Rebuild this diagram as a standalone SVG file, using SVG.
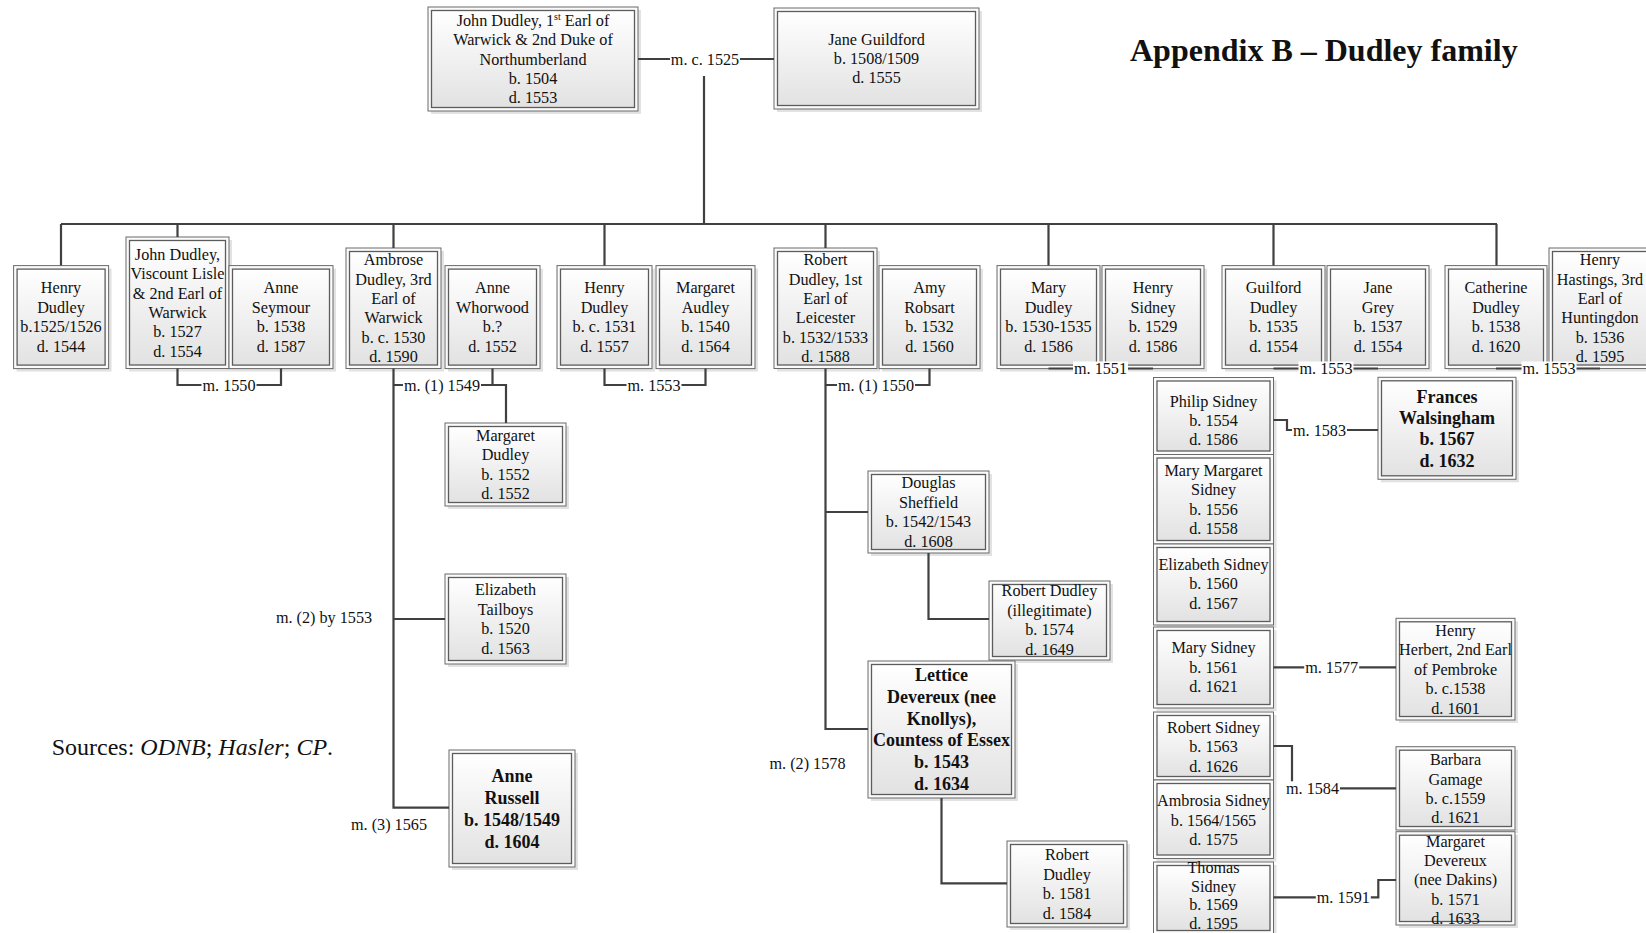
<svg xmlns="http://www.w3.org/2000/svg" width="1646" height="933" viewBox="0 0 1646 933">
<defs>
<linearGradient id="g" x1="0" y1="0" x2="0" y2="1"><stop offset="0" stop-color="#ffffff"/><stop offset="1" stop-color="#e2e2e2"/></linearGradient>
</defs>
<style>
.sh{fill:#cfcfcf;opacity:.6}
.o{fill:#fbfbfb;stroke:#6a6a6a;stroke-width:1}
.i{fill:url(#g);stroke:#5c5c5c;stroke-width:1.3}
text{font-family:"Liberation Serif","Times New Roman",serif;fill:#111}
.t{font-size:16.2px;text-anchor:middle}
.b{font-size:18px;font-weight:bold;text-anchor:middle}
.c{fill:none;stroke:#404040;stroke-width:2.2}
.l{font-size:16.2px;text-anchor:middle}
.lb{fill:#fff}
</style>
<rect width="1646" height="933" fill="#fff"/>

<g id="nodes">
<g id="n-john-dudley"><rect class="sh" x="431" y="10" width="210" height="104"/><rect class="o" x="428" y="7" width="210" height="104"/><rect class="i" x="431.5" y="10.5" width="203" height="97"/>
<text class="t"><tspan x="533" y="25.7">John Dudley, 1<tspan font-size="10" dy="-6">st</tspan><tspan dy="6"> Earl of</tspan></tspan><tspan x="533" y="45.1">Warwick &amp; 2nd Duke of</tspan><tspan x="533" y="64.5">Northumberland</tspan><tspan x="533" y="83.9">b. 1504</tspan><tspan x="533" y="103.3">d. 1553</tspan></text></g>

<g id="n-jane-guildford"><rect class="sh" x="777" y="11" width="205" height="101"/><rect class="o" x="774" y="8" width="205" height="101"/><rect class="i" x="777.5" y="11.5" width="198" height="94"/>
<text class="t"><tspan x="876.5" y="44.6">Jane Guildford</tspan><tspan x="876.5" y="64">b. 1508/1509</tspan><tspan x="876.5" y="83.4">d. 1555</tspan></text></g>

<g id="n-henry-dudley"><rect class="sh" x="16.6" y="268.6" width="95" height="103"/><rect class="o" x="13.6" y="265.6" width="95" height="103"/><rect class="i" x="17.1" y="269.1" width="88" height="96"/>
<text class="t"><tspan x="61" y="293.4">Henry</tspan><tspan x="61" y="312.8">Dudley</tspan><tspan x="61" y="332.2">b.1525/1526</tspan><tspan x="61" y="351.6">d. 1544</tspan></text></g>

<g id="n-john-lisle"><rect class="sh" x="129" y="240" width="103" height="131.5"/><rect class="o" x="126" y="237" width="103" height="131.5"/><rect class="i" x="129.5" y="240.5" width="96" height="124.5"/>
<text class="t"><tspan x="177.5" y="259.75">John Dudley,</tspan><tspan x="177.5" y="279.15">Viscount Lisle</tspan><tspan x="177.5" y="298.55">&amp; 2nd Earl of</tspan><tspan x="177.5" y="317.95">Warwick</tspan><tspan x="177.5" y="337.35">b. 1527</tspan><tspan x="177.5" y="356.75">d. 1554</tspan></text></g>

<g id="n-anne-seymour"><rect class="sh" x="232" y="268.6" width="104" height="103"/><rect class="o" x="229" y="265.6" width="104" height="103"/><rect class="i" x="232.5" y="269.1" width="97" height="96"/>
<text class="t"><tspan x="281" y="293.4">Anne</tspan><tspan x="281" y="312.8">Seymour</tspan><tspan x="281" y="332.2">b. 1538</tspan><tspan x="281" y="351.6">d. 1587</tspan></text></g>

<g id="n-ambrose"><rect class="sh" x="349" y="251" width="95" height="120.5"/><rect class="o" x="346" y="248" width="95" height="120.5"/><rect class="i" x="349.5" y="251.5" width="88" height="113.5"/>
<text class="t"><tspan x="393.5" y="265.25">Ambrose</tspan><tspan x="393.5" y="284.65">Dudley, 3rd</tspan><tspan x="393.5" y="304.05">Earl of</tspan><tspan x="393.5" y="323.45">Warwick</tspan><tspan x="393.5" y="342.85">b. c. 1530</tspan><tspan x="393.5" y="362.25">d. 1590</tspan></text></g>

<g id="n-anne-whorwood"><rect class="sh" x="448" y="268.6" width="95" height="103"/><rect class="o" x="445" y="265.6" width="95" height="103"/><rect class="i" x="448.5" y="269.1" width="88" height="96"/>
<text class="t"><tspan x="492.5" y="293.4">Anne</tspan><tspan x="492.5" y="312.8">Whorwood</tspan><tspan x="492.5" y="332.2">b.?</tspan><tspan x="492.5" y="351.6">d. 1552</tspan></text></g>

<g id="n-henry-dudley-2"><rect class="sh" x="560" y="268.6" width="95" height="103"/><rect class="o" x="557" y="265.6" width="95" height="103"/><rect class="i" x="560.5" y="269.1" width="88" height="96"/>
<text class="t"><tspan x="604.5" y="293.4">Henry</tspan><tspan x="604.5" y="312.8">Dudley</tspan><tspan x="604.5" y="332.2">b. c. 1531</tspan><tspan x="604.5" y="351.6">d. 1557</tspan></text></g>

<g id="n-margaret-audley"><rect class="sh" x="659" y="268.6" width="99" height="103"/><rect class="o" x="656" y="265.6" width="99" height="103"/><rect class="i" x="659.5" y="269.1" width="92" height="96"/>
<text class="t"><tspan x="705.5" y="293.4">Margaret</tspan><tspan x="705.5" y="312.8">Audley</tspan><tspan x="705.5" y="332.2">b. 1540</tspan><tspan x="705.5" y="351.6">d. 1564</tspan></text></g>

<g id="n-robert-dudley"><rect class="sh" x="777" y="251" width="103" height="120.5"/><rect class="o" x="774" y="248" width="103" height="120.5"/><rect class="i" x="777.5" y="251.5" width="96" height="113.5"/>
<text class="t"><tspan x="825.5" y="265.25">Robert</tspan><tspan x="825.5" y="284.65">Dudley, 1st</tspan><tspan x="825.5" y="304.05">Earl of</tspan><tspan x="825.5" y="323.45">Leicester</tspan><tspan x="825.5" y="342.85">b. 1532/1533</tspan><tspan x="825.5" y="362.25">d. 1588</tspan></text></g>

<g id="n-amy-robsart"><rect class="sh" x="882" y="268.6" width="101" height="103"/><rect class="o" x="879" y="265.6" width="101" height="103"/><rect class="i" x="882.5" y="269.1" width="94" height="96"/>
<text class="t"><tspan x="929.5" y="293.4">Amy</tspan><tspan x="929.5" y="312.8">Robsart</tspan><tspan x="929.5" y="332.2">b. 1532</tspan><tspan x="929.5" y="351.6">d. 1560</tspan></text></g>

<g id="n-mary-dudley"><rect class="sh" x="1000" y="268.6" width="103" height="103"/><rect class="o" x="997" y="265.6" width="103" height="103"/><rect class="i" x="1000.5" y="269.1" width="96" height="96"/>
<text class="t"><tspan x="1048.5" y="293.4">Mary</tspan><tspan x="1048.5" y="312.8">Dudley</tspan><tspan x="1048.5" y="332.2">b. 1530-1535</tspan><tspan x="1048.5" y="351.6">d. 1586</tspan></text></g>

<g id="n-henry-sidney"><rect class="sh" x="1105" y="268.6" width="102" height="103"/><rect class="o" x="1102" y="265.6" width="102" height="103"/><rect class="i" x="1105.5" y="269.1" width="95" height="96"/>
<text class="t"><tspan x="1153" y="293.4">Henry</tspan><tspan x="1153" y="312.8">Sidney</tspan><tspan x="1153" y="332.2">b. 1529</tspan><tspan x="1153" y="351.6">d. 1586</tspan></text></g>

<g id="n-guilford-dudley"><rect class="sh" x="1225" y="268.6" width="103" height="103"/><rect class="o" x="1222" y="265.6" width="103" height="103"/><rect class="i" x="1225.5" y="269.1" width="96" height="96"/>
<text class="t"><tspan x="1273.5" y="293.4">Guilford</tspan><tspan x="1273.5" y="312.8">Dudley</tspan><tspan x="1273.5" y="332.2">b. 1535</tspan><tspan x="1273.5" y="351.6">d. 1554</tspan></text></g>

<g id="n-jane-grey"><rect class="sh" x="1330" y="268.6" width="102" height="103"/><rect class="o" x="1327" y="265.6" width="102" height="103"/><rect class="i" x="1330.5" y="269.1" width="95" height="96"/>
<text class="t"><tspan x="1378" y="293.4">Jane</tspan><tspan x="1378" y="312.8">Grey</tspan><tspan x="1378" y="332.2">b. 1537</tspan><tspan x="1378" y="351.6">d. 1554</tspan></text></g>

<g id="n-catherine-dudley"><rect class="sh" x="1448" y="268.6" width="102" height="103"/><rect class="o" x="1445" y="265.6" width="102" height="103"/><rect class="i" x="1448.5" y="269.1" width="95" height="96"/>
<text class="t"><tspan x="1496" y="293.4">Catherine</tspan><tspan x="1496" y="312.8">Dudley</tspan><tspan x="1496" y="332.2">b. 1538</tspan><tspan x="1496" y="351.6">d. 1620</tspan></text></g>

<g id="n-henry-hastings"><rect class="sh" x="1552" y="251" width="102" height="120.5"/><rect class="o" x="1549" y="248" width="102" height="120.5"/><rect class="i" x="1552.5" y="251.5" width="95" height="113.5"/>
<text class="t"><tspan x="1600" y="265.25">Henry</tspan><tspan x="1600" y="284.65">Hastings, 3rd</tspan><tspan x="1600" y="304.05">Earl of</tspan><tspan x="1600" y="323.45">Huntingdon</tspan><tspan x="1600" y="342.85">b. 1536</tspan><tspan x="1600" y="362.25">d. 1595</tspan></text></g>

<g id="n-margaret-dudley"><rect class="sh" x="448" y="426" width="121" height="83"/><rect class="o" x="445" y="423" width="121" height="83"/><rect class="i" x="448.5" y="426.5" width="114" height="76"/>
<text class="t"><tspan x="505.5" y="440.9">Margaret</tspan><tspan x="505.5" y="460.3">Dudley</tspan><tspan x="505.5" y="479.7">b. 1552</tspan><tspan x="505.5" y="499.1">d. 1552</tspan></text></g>

<g id="n-elizabeth-tailboys"><rect class="sh" x="448" y="577" width="121" height="90"/><rect class="o" x="445" y="574" width="121" height="90"/><rect class="i" x="448.5" y="577.5" width="114" height="83"/>
<text class="t"><tspan x="505.5" y="595.4">Elizabeth</tspan><tspan x="505.5" y="614.8">Tailboys</tspan><tspan x="505.5" y="634.2">b. 1520</tspan><tspan x="505.5" y="653.6">d. 1563</tspan></text></g>

<g id="n-anne-russell"><rect class="sh" x="452" y="753" width="126" height="117"/><rect class="o" x="449" y="750" width="126" height="117"/><rect class="i" x="452.5" y="753.5" width="119" height="110"/>
<text class="b"><tspan x="512" y="781.9">Anne</tspan><tspan x="512" y="803.9">Russell</tspan><tspan x="512" y="825.9">b. 1548/1549</tspan><tspan x="512" y="847.9">d. 1604</tspan></text></g>

<g id="n-douglas-sheffield"><rect class="sh" x="871" y="474" width="121" height="82"/><rect class="o" x="868" y="471" width="121" height="82"/><rect class="i" x="871.5" y="474.5" width="114" height="75"/>
<text class="t"><tspan x="928.5" y="488.4">Douglas</tspan><tspan x="928.5" y="507.8">Sheffield</tspan><tspan x="928.5" y="527.2">b. 1542/1543</tspan><tspan x="928.5" y="546.6">d. 1608</tspan></text></g>

<g id="n-robert-dudley-illegitimate"><rect class="sh" x="992" y="584" width="121" height="79"/><rect class="o" x="989" y="581" width="121" height="79"/><rect class="i" x="992.5" y="584.5" width="114" height="72"/>
<text class="t"><tspan x="1049.5" y="596.4">Robert Dudley</tspan><tspan x="1049.5" y="615.8">(illegitimate)</tspan><tspan x="1049.5" y="635.2">b. 1574</tspan><tspan x="1049.5" y="654.6">d. 1649</tspan></text></g>

<g id="n-lettice"><rect class="sh" x="871" y="664" width="147" height="137"/><rect class="o" x="868" y="661" width="147" height="137"/><rect class="i" x="871.5" y="664.5" width="140" height="130"/>
<text class="b"><tspan x="941.5" y="681.2">Lettice</tspan><tspan x="941.5" y="702.9">Devereux (nee</tspan><tspan x="941.5" y="724.6">Knollys),</tspan><tspan x="941.5" y="746.2">Countess of Essex</tspan><tspan x="941.5" y="767.9">b. 1543</tspan><tspan x="941.5" y="789.6">d. 1634</tspan></text></g>

<g id="n-robert-dudley-1581"><rect class="sh" x="1010" y="844" width="120" height="86"/><rect class="o" x="1007" y="841" width="120" height="86"/><rect class="i" x="1010.5" y="844.5" width="113" height="79"/>
<text class="t"><tspan x="1067" y="860.4">Robert</tspan><tspan x="1067" y="879.8">Dudley</tspan><tspan x="1067" y="899.2">b. 1581</tspan><tspan x="1067" y="918.6">d. 1584</tspan></text></g>

<g id="n-philip-sidney"><rect class="sh" x="1156.5" y="380.5" width="120" height="77"/><rect class="o" x="1153.5" y="377.5" width="120" height="77"/><rect class="i" x="1157" y="381" width="113" height="70"/>
<text class="t"><tspan x="1213.5" y="406.6">Philip Sidney</tspan><tspan x="1213.5" y="426">b. 1554</tspan><tspan x="1213.5" y="445.4">d. 1586</tspan></text></g>

<g id="n-mary-margaret-sidney"><rect class="sh" x="1156.5" y="457.5" width="120" height="89.5"/><rect class="o" x="1153.5" y="454.5" width="120" height="89.5"/><rect class="i" x="1157" y="458" width="113" height="82.5"/>
<text class="t"><tspan x="1213.5" y="475.8">Mary Margaret</tspan><tspan x="1213.5" y="495.2">Sidney</tspan><tspan x="1213.5" y="514.6">b. 1556</tspan><tspan x="1213.5" y="534">d. 1558</tspan></text></g>

<g id="n-elizabeth-sidney"><rect class="sh" x="1156.5" y="547" width="120" height="81"/><rect class="o" x="1153.5" y="544" width="120" height="81"/><rect class="i" x="1157" y="547.5" width="113" height="74"/>
<text class="t"><tspan x="1213.5" y="569.7">Elizabeth Sidney</tspan><tspan x="1213.5" y="589.1">b. 1560</tspan><tspan x="1213.5" y="608.5">d. 1567</tspan></text></g>

<g id="n-mary-sidney"><rect class="sh" x="1156.5" y="630" width="120" height="81"/><rect class="o" x="1153.5" y="627" width="120" height="81"/><rect class="i" x="1157" y="630.5" width="113" height="74"/>
<text class="t"><tspan x="1213.5" y="653.1">Mary Sidney</tspan><tspan x="1213.5" y="672.5">b. 1561</tspan><tspan x="1213.5" y="691.9">d. 1621</tspan></text></g>

<g id="n-robert-sidney"><rect class="sh" x="1156.5" y="715" width="120" height="68"/><rect class="o" x="1153.5" y="712" width="120" height="68"/><rect class="i" x="1157" y="715.5" width="113" height="61"/>
<text class="t"><tspan x="1213.5" y="732.8">Robert Sidney</tspan><tspan x="1213.5" y="752.2">b. 1563</tspan><tspan x="1213.5" y="771.6">d. 1626</tspan></text></g>

<g id="n-ambrosia-sidney"><rect class="sh" x="1156.5" y="783" width="120" height="78.5"/><rect class="o" x="1153.5" y="780" width="120" height="78.5"/><rect class="i" x="1157" y="783.5" width="113" height="71.5"/>
<text class="t"><tspan x="1213.5" y="806.1">Ambrosia Sidney</tspan><tspan x="1213.5" y="825.5">b. 1564/1565</tspan><tspan x="1213.5" y="844.9">d. 1575</tspan></text></g>

<g id="n-thomas-sidney"><rect class="sh" x="1156.5" y="865" width="120" height="72"/><rect class="o" x="1153.5" y="862" width="120" height="72"/><rect class="i" x="1157" y="865.5" width="113" height="65"/>
<text class="t"><tspan x="1213.5" y="873">Thomas</tspan><tspan x="1213.5" y="891.5">Sidney</tspan><tspan x="1213.5" y="910">b. 1569</tspan><tspan x="1213.5" y="928.5">d. 1595</tspan></text></g>

<g id="n-frances-walsingham"><rect class="sh" x="1381" y="380.3" width="138" height="102"/><rect class="o" x="1378" y="377.3" width="138" height="102"/><rect class="i" x="1381.5" y="380.8" width="131" height="95"/>
<text class="b"><tspan x="1447" y="402.9">Frances</tspan><tspan x="1447" y="424.1">Walsingham</tspan><tspan x="1447" y="445.3">b. 1567</tspan><tspan x="1447" y="466.5">d. 1632</tspan></text></g>

<g id="n-henry-herbert"><rect class="sh" x="1399" y="621.3" width="119" height="101.7"/><rect class="o" x="1396" y="618.3" width="119" height="101.7"/><rect class="i" x="1399.5" y="621.8" width="112" height="94.7"/>
<text class="t"><tspan x="1455.5" y="635.9">Henry</tspan><tspan x="1455.5" y="655.3">Herbert, 2nd Earl</tspan><tspan x="1455.5" y="674.7">of Pembroke</tspan><tspan x="1455.5" y="694.1">b. c.1538</tspan><tspan x="1455.5" y="713.5">d. 1601</tspan></text></g>

<g id="n-barbara-gamage"><rect class="sh" x="1399" y="749.7" width="119" height="83.3"/><rect class="o" x="1396" y="746.7" width="119" height="83.3"/><rect class="i" x="1399.5" y="750.2" width="112" height="76.3"/>
<text class="t"><tspan x="1455.5" y="765.2">Barbara</tspan><tspan x="1455.5" y="784.6">Gamage</tspan><tspan x="1455.5" y="804">b. c.1559</tspan><tspan x="1455.5" y="823.4">d. 1621</tspan></text></g>

<g id="n-margaret-devereux"><rect class="sh" x="1399" y="834.7" width="119" height="93.3"/><rect class="o" x="1396" y="831.7" width="119" height="93.3"/><rect class="i" x="1399.5" y="835.2" width="112" height="86.3"/>
<text class="t"><tspan x="1455.5" y="846.6">Margaret</tspan><tspan x="1455.5" y="866">Devereux</tspan><tspan x="1455.5" y="885.4">(nee Dakins)</tspan><tspan x="1455.5" y="904.8">b. 1571</tspan><tspan x="1455.5" y="924.2">d. 1633</tspan></text></g>
</g>

<g id="connectors">
<path class="c" d="M638,59 H774"/>
<path class="c" d="M704,76 V224"/>
<path class="c" d="M61,224 H1497"/>
<path class="c" d="M61,224 V265.6 M177.5,224 V237 M393.5,224 V248 M604.5,224 V265.6 M825.5,224 V248 M1048.5,224 V265.6 M1273.5,224 V265.6 M1496.5,224 V265.6"/>
<path class="c" d="M177.5,368.5 V385 H281 V368.5"/>
<path class="c" d="M492.5,368.5 V385 M393.5,385 H506 V423"/>
<path class="c" d="M604.5,368.5 V385 H705.5 V368.5"/>
<path class="c" d="M825.5,385 H929.5 V368.5"/>
<path class="c" d="M1048.5,368.5 H1153"/>
<path class="c" d="M1273.5,368.5 H1378"/>
<path class="c" d="M1496,368.5 H1600"/>
<path class="c" d="M393.5,368.5 V807.7 H449 M393.5,619 H445"/>
<path class="c" d="M825.5,368.5 V729 H868 M825.5,512 H868"/>
<path class="c" d="M928.5,553 V619 H989"/>
<path class="c" d="M941.5,798 V883.3 H1007"/>
<path class="c" d="M1273.5,420 H1287 V430 H1378"/>
<path class="c" d="M1273.5,667.3 H1396"/>
<path class="c" d="M1273.5,746 H1292 V788.3 H1396"/>
<path class="c" d="M1273.5,897.3 H1378.3 V880 H1396"/>

<g id="labels">
<rect class="lb" x="670" y="52" width="70" height="13"/><text class="l" x="705" y="64.5">m. c. 1525</text>
<rect class="lb" x="201.5" y="378" width="55" height="13"/><text class="l" x="229" y="390.5">m. 1550</text>
<rect class="lb" x="403" y="378" width="78" height="13"/><text class="l" x="442" y="390.5">m. (1) 1549</text>
<rect class="lb" x="626.5" y="378" width="55" height="13"/><text class="l" x="654" y="390.5">m. 1553</text>
<rect class="lb" x="837" y="378" width="78" height="13"/><text class="l" x="876" y="390.5">m. (1) 1550</text>
<rect class="lb" x="1073" y="361.5" width="55" height="13"/><text class="l" x="1100.5" y="374">m. 1551</text>
<rect class="lb" x="1298.5" y="361.5" width="55" height="13"/><text class="l" x="1326" y="374">m. 1553</text>
<rect class="lb" x="1521.5" y="361.5" width="55" height="13"/><text class="l" x="1549" y="374">m. 1553</text>
<text class="l" x="324" y="622.5">m. (2) by 1553</text>
<text class="l" x="389" y="829.5">m. (3) 1565</text>
<text class="l" x="807.5" y="768.8">m. (2) 1578</text>
<rect class="lb" x="1292" y="423" width="55" height="13"/><text class="l" x="1319.5" y="435.5">m. 1583</text>
<rect class="lb" x="1304.2" y="660.3" width="55" height="13"/><text class="l" x="1331.7" y="672.8">m. 1577</text>
<rect class="lb" x="1285" y="781.3" width="55" height="13"/><text class="l" x="1312.5" y="793.8">m. 1584</text>
<rect class="lb" x="1315.8" y="890.3" width="55" height="13"/><text class="l" x="1343.3" y="902.8">m. 1591</text>
</g>
</g>

<text id="title" x="1130" y="61" font-size="32" font-weight="bold">Appendix B – Dudley family</text>
<text id="sources" x="51.7" y="755" font-size="24">Sources: <tspan font-style="italic">ODNB</tspan>; <tspan font-style="italic">Hasler</tspan>; <tspan font-style="italic">CP</tspan>.</text>
</svg>
